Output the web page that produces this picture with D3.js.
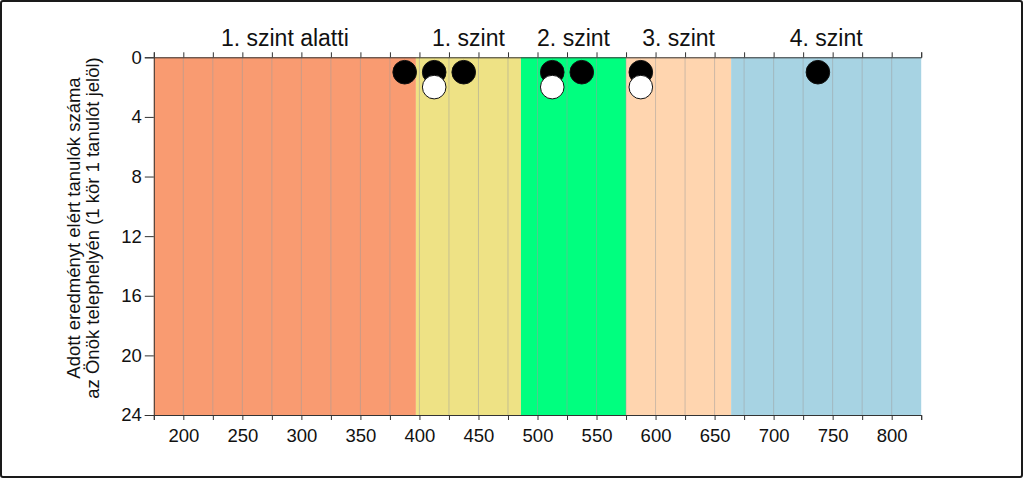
<!DOCTYPE html>
<html>
<head>
<meta charset="utf-8">
<script src="https://cdn.jsdelivr.net/npm/d3@7/dist/d3.min.js"></script>
<style>
  html, body { margin: 0; padding: 0; background: #fff; }
  svg { display: block; font-family: "Liberation Sans", Arial, sans-serif; }
</style>
</head>
<body>
<svg id="chart" width="1024" height="478"></svg>
<script>
// ---- data ----
const bandLabels = ["1. szint alatti", "1. szint", "2. szint", "3. szint", "4. szint"];
const bandEdges = [175, 397, 486, 575, 664, 825];
const xTicks = [200, 250, 300, 350, 400, 450, 500, 550, 600, 650, 700, 750, 800];
const yTicks = [0, 4, 8, 12, 16, 20, 24];
// students of the site (1 circle = 1 student), black = first row, white = second row
const blackScores = [387.5, 412.5, 437.5, 512.5, 537.5, 587.5, 737.5];
const whiteScores = [412.5, 512.5, 587.5];
const yTitleLines = ["Adott eredményt elért tanulók száma", "az Önök telephelyén (1 kör 1 tanulót jelöl)"];

// ---- styles ----
const bandColors = ["#F99B71", "#EEE285", "#00FF7F", "#FFD5AF", "#A7D3E3"];

const svg = d3.select("#chart");
const L = 153.8, R = 921.2, T = 57.3, B = 415;
const x = d3.scaleLinear().domain([175, 825]).range([L, R]);
const y = d3.scaleLinear().domain([0, 24]).range([T, B]);

// outer frame
svg.append("rect").attr("x", 1).attr("y", 1).attr("width", 1021).attr("height", 476)
  .attr("rx", 2).attr("fill", "none").attr("stroke", "#1a1a1a").attr("stroke-width", 2);

// bands
const bands = bandLabels.map((l, i) => ({ label: l, a: bandEdges[i], b: bandEdges[i + 1], color: bandColors[i] }));
svg.append("g").selectAll("rect").data(bands).join("rect")
  .attr("x", d => x(d.a)).attr("width", d => x(d.b) - x(d.a))
  .attr("y", y(0)).attr("height", y(24) - y(0))
  .attr("fill", d => d.color);

// grid lines every 25
const gridVals = d3.range(200, 825, 25);
svg.append("g").selectAll("line").data(gridVals).join("line")
  .attr("x1", d => x(d)).attr("x2", d => x(d))
  .attr("y1", y(0)).attr("y2", y(24))
  .attr("stroke", "#9e9e9e").attr("stroke-opacity", 0.5).attr("stroke-width", 1);

// band labels
svg.append("g").selectAll("text").data(bands).join("text")
  .attr("x", d => x((d.a + d.b) / 2))
  .attr("y", 45.5)
  .attr("text-anchor", "middle")
  .attr("font-size", 23).attr("fill", "#111")
  .text(d => d.label);

// top axis
const topAxis = d3.axisTop(x).tickValues(d3.range(175, 826, 25)).tickSize(5).tickFormat("");
svg.append("g").attr("transform", `translate(0,${T})`).call(topAxis)
  .call(g => g.selectAll("path, line").attr("stroke", "#333"));

// bottom axis
const botAxis = d3.axisBottom(x).tickValues(d3.range(175, 826, 25)).tickSize(5)
  .tickFormat(d => xTicks.includes(d) ? d : "");
svg.append("g").attr("transform", `translate(0,${B})`).call(botAxis)
  .call(g => g.selectAll("path, line").attr("stroke", "#333"))
  .call(g => g.selectAll("text").attr("font-size", 18.5).attr("fill", "#111")
    .attr("font-family", "Liberation Sans, Arial, sans-serif").attr("dy", "1.02em"));

// left axis
const leftAxis = d3.axisLeft(y).tickValues(yTicks).tickSize(9).tickPadding(3);
svg.append("g").attr("transform", `translate(${L},0)`).call(leftAxis)
  .call(g => g.selectAll("path, line").attr("stroke", "#333"))
  .call(g => g.selectAll("text").attr("font-size", 18.5).attr("fill", "#111")
    .attr("font-family", "Liberation Sans, Arial, sans-serif"));

// y title
const yt = svg.append("text").attr("transform", `translate(80,228) rotate(-90)`)
  .attr("text-anchor", "middle").attr("font-size", 18.5).attr("fill", "#111");
yTitleLines.forEach((t, i) => {
  yt.append("tspan").attr("x", 0).attr("y", i * 18.7).text(t);
});

// circles: stack by count within same score
const counts = {};
const pts = [];
blackScores.forEach(s => { counts[s] = (counts[s] || 0) + 1; pts.push({ s, n: counts[s], fill: "#000" }); });
whiteScores.forEach(s => { counts[s] = (counts[s] || 0) + 1; pts.push({ s, n: counts[s], fill: "#fff" }); });
svg.append("g").selectAll("circle").data(pts).join("circle")
  .attr("cx", d => x(d.s)).attr("cy", d => y(d.n))
  .attr("r", 11.8)
  .attr("fill", d => d.fill)
  .attr("stroke", "#111").attr("stroke-width", 1);
</script>
</body>
</html>
